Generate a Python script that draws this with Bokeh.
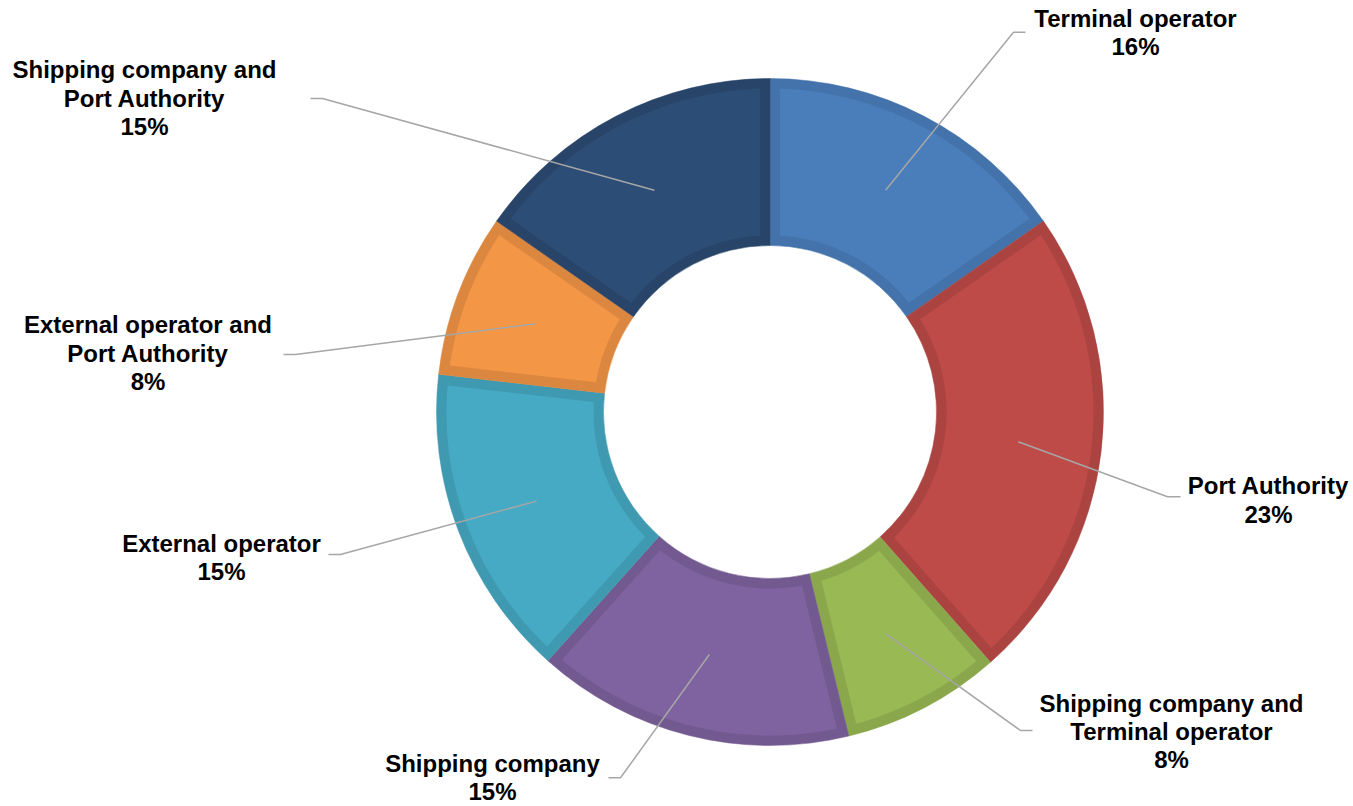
import math
from bokeh.plotting import figure
from bokeh.models import Range1d, ColumnDataSource
from bokeh.core.properties import value
from bokeh.embed import file_html
from bokeh.resources import INLINE

# ---------------- data ----------------
categories = [
    "Terminal operator",
    "Port Authority",
    "Shipping company and Terminal operator",
    "Shipping company",
    "External operator",
    "External operator and Port Authority",
    "Shipping company and Port Authority",
]
shares = [15.3, 23.2, 7.7, 15.4, 15.2, 7.9, 15.3]
pct_labels = ["16%", "23%", "8%", "15%", "15%", "8%", "15%"]
label_lines = [
    ["Terminal operator"],
    ["Port Authority"],
    ["Shipping company and", "Terminal operator"],
    ["Shipping company"],
    ["External operator"],
    ["External operator and", "Port Authority"],
    ["Shipping company and", "Port Authority"],
]
fill_colors = ["#4A7EBB", "#BE4B48", "#98B954", "#7F63A1", "#46AAC5", "#F39646", "#2C4D75"]
edge_colors = ["#4472AA", "#AB4441", "#8AA74C", "#72598F", "#3F99B1", "#DB873F", "#284569"]

# ---------------- layout (pixel coordinates of the reference picture) ----------------
W, H = 1353, 806
def X(px):
    return px
def Y(py):
    return H - py

CX, CY = X(769.5), Y(411.5)
R_OUT, R_IN = 333.5, 166.5
BORDER = 10

# label layout: (center x, first baseline, elbow x, elbow y, end x)
label_layout = [
    (1135, 26.7, 1013, 31.7, 1025),
    (1268, 494.3, 1167, 496.3, 1180),
    (1171, 711.7, 1020, 730, 1032),
    (492, 772.0, 620, 777.3, 608),
    (221, 551.7, 340, 554, 328),
    (147.5, 333.3, 295, 354, 283),
    (144, 78.3, 322, 98, 310),
]
LINE_STEP = 28.2
TEXT_SHIFT = 9  # correction between measured baselines and rendered text

p = figure(width=W, height=H, output_backend="svg", toolbar_location=None,
           x_range=Range1d(0, W), y_range=Range1d(0, H), min_border=0,
           background_fill_color="white", border_fill_color="white")
p.axis.visible = False
p.grid.visible = False
p.outline_line_color = None

total = sum(shares)
cum = 0.0
starts, ends = [], []
for s in shares:
    starts.append(cum / total * 2 * math.pi)
    cum += s
    ends.append(cum / total * 2 * math.pi)

# dark outer wedges (border colour)
src = ColumnDataSource(dict(
    start=[math.pi / 2 - e for e in ends],
    end=[math.pi / 2 - s for s in starts],
    color=edge_colors,
    name=categories,
))
p.annular_wedge(x=CX, y=CY, inner_radius=R_IN, outer_radius=R_OUT,
                inner_radius_units="screen", outer_radius_units="screen",
                start_angle="start", end_angle="end", direction="anticlock",
                fill_color="color", line_color="color", line_width=0.5, source=src)

# lighter inner faces, inset by the border width on every side
def pt(phi, rho):
    return CX + rho * math.sin(phi), CY + rho * math.cos(phi)

xs_all, ys_all = [], []
ro, ri = R_OUT - BORDER, R_IN + BORDER
for a, b in zip(starts, ends):
    xs, ys = [], []
    a_o, b_o = a + math.asin(BORDER / ro), b - math.asin(BORDER / ro)
    a_i, b_i = a + math.asin(BORDER / ri), b - math.asin(BORDER / ri)
    n = 80
    for k in range(n + 1):
        x, y = pt(a_o + (b_o - a_o) * k / n, ro)
        xs.append(x); ys.append(y)
    for k in range(n + 1):
        x, y = pt(b_i + (a_i - b_i) * k / n, ri)
        xs.append(x); ys.append(y)
    xs_all.append(xs); ys_all.append(ys)
p.patches(xs_all, ys_all, fill_color=fill_colors, line_color=None)

# leader lines
lx, ly = [], []
rm = (R_OUT + R_IN) / 2
for (a, b), lay in zip(zip(starts, ends), label_layout):
    mid = (a + b) / 2
    sx, sy = pt(mid, rm)
    _, _, ex, ey, tx = lay
    lx.append([sx, X(ex), X(tx)])
    ly.append([sy, Y(ey), Y(ey)])
p.multi_line(lx, ly, line_color="#A6A6A6", line_width=1.5)

# labels
tx, ty, tt = [], [], []
for lines, pct, lay in zip(label_lines, pct_labels, label_layout):
    cx, b0 = lay[0], lay[1]
    for k, t in enumerate(lines + [pct]):
        tx.append(X(cx)); ty.append(Y(b0 - TEXT_SHIFT + k * LINE_STEP)); tt.append(t)
p.text(x=tx, y=ty, text=tt, text_align="center", text_baseline="alphabetic",
       text_font=value("Liberation Sans"), text_font_style="bold",
       text_font_size="24px", text_color="#000000")

open("out.html", "w").write(file_html(p, INLINE))
